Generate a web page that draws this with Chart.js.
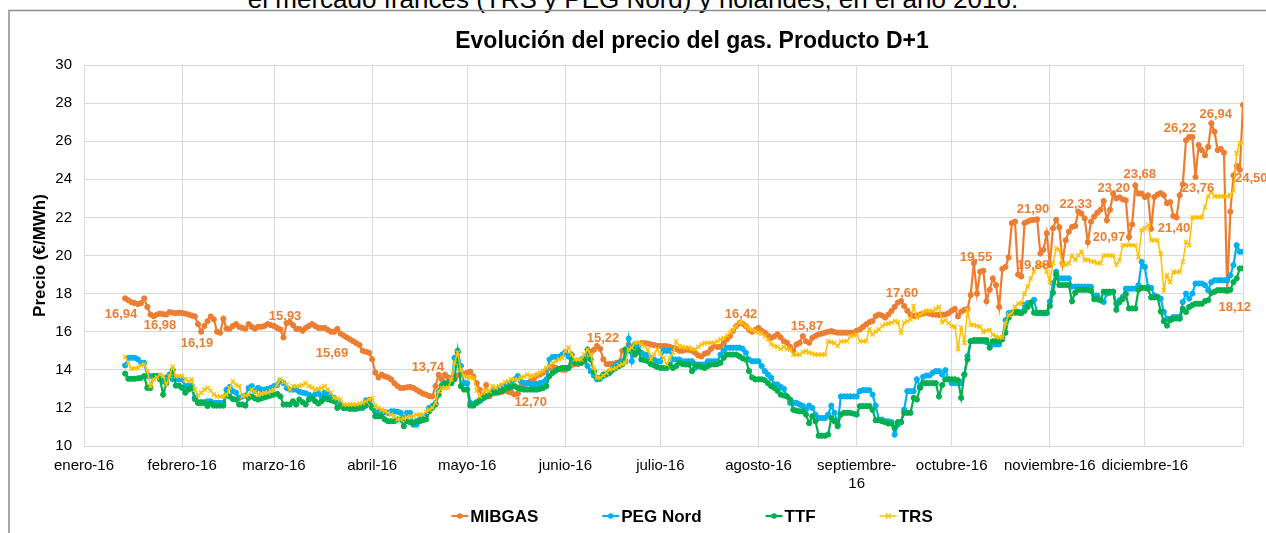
<!DOCTYPE html>
<html lang="es">
<head>
<meta charset="utf-8">
<title>Evolución del precio del gas. Producto D+1</title>
<script src="https://cdn.jsdelivr.net/npm/chart.js@4.4.0/dist/chart.umd.min.js"></script>
<style>
    html, body { margin: 0; padding: 0; background: #fff; overflow: hidden; }
    #doc-text {
        position: absolute; left: 0; top: -14px; width: 1266px;
        text-align: center; white-space: nowrap;
        font: 26px/26px "Liberation Sans", Arial, sans-serif; color: #000;
    }
    #wrap { position: absolute; left: 0; top: 0; width: 1266px; height: 533px; }
</style>
</head>
<body>
<div id="doc-text">el mercado francés (TRS y PEG Nord) y holandés, en el año 2016.</div>
<div id="wrap"><canvas id="chart"></canvas></div>
<script>
const FONT = '"Liberation Sans", Arial, sans-serif';

// Achse: Tage ab 1. Januar 2016
const firstDay = 13;
const monthTicks = [0, 31, 60, 91, 121, 152, 182, 213, 244, 274, 305, 335, 366];
const monthLabels = ['enero-16', 'febrero-16', 'marzo-16', 'abril-16', 'mayo-16', 'junio-16', 'julio-16',
    'agosto-16', ['septiembre-', '16'], 'octubre-16', 'noviembre-16', 'diciembre-16', ''];

// Tageswerte (€/MWh), ab Tag 13, je Zeile 10 Tage
const mibgas = [
    17.75, 17.65, 17.55, 17.5, 17.45, 17.5, 17.75, 17.3, 16.9, 16.82,
    16.9, 16.95, 16.92, 16.9, 17.03, 17.0, 16.97, 17.0, 16.98, 16.95,
    16.9, 16.85, 16.8, 16.4, 16.0, 16.3, 16.55, 16.8, 16.65, 16.0,
    15.95, 16.68, 16.16, 16.15, 16.3, 16.4, 16.26, 16.2, 16.16, 16.4,
    16.25, 16.16, 16.26, 16.26, 16.3, 16.4, 16.35, 16.3, 16.2, 16.12,
    15.7, 16.45, 16.5, 16.35, 16.15, 16.15, 16.05, 16.2, 16.3, 16.4,
    16.3, 16.2, 16.2, 16.2, 16.1, 16.0, 16.0, 16.15, 15.9, 15.8,
    15.7, 15.6, 15.5, 15.4, 15.3, 15.0, 14.95, 14.9, 14.55, 13.85,
    13.6, 13.75, 13.65, 13.6, 13.5, 13.3, 13.15, 13.05, 13.05, 13.08,
    13.1, 13.05, 12.95, 12.85, 12.75, 12.7, 12.62, 12.6, 13.15, 13.74,
    13.5, 13.75, 13.6, 13.55, 13.6, 13.7, 13.75, 13.8, 13.85, 13.9,
    13.65, 13.3, 12.95, 12.5, 13.2, 12.6, 12.75, 12.8, 12.8, 12.85,
    12.9, 12.85, 12.8, 12.7, 12.75, 13.14, 13.2, 13.3, 13.4, 13.5,
    13.7, 13.75, 13.85, 14.0, 14.1, 14.15, 14.1, 14.05, 14.0, 14.0,
    14.1, 14.25, 14.3, 14.3, 14.35, 14.45, 14.63, 14.9, 15.05, 15.25,
    15.1, 14.55, 14.3, 14.3, 14.32, 14.35, 14.4, 15.0, 15.05, 15.33,
    15.05, 15.2, 15.35, 15.4, 15.4, 15.38, 15.33, 15.3, 15.25, 15.25,
    15.25, 15.25, 15.2, 15.15, 15.1, 15.0, 15.0, 15.05, 15.05, 15.0,
    14.9, 14.75, 14.7, 14.85, 14.9, 15.1, 15.25, 15.2, 15.2, 15.4,
    15.6, 15.77, 16.05, 16.3, 16.45, 16.42, 16.3, 16.1, 16.0, 16.1,
    16.2, 16.05, 15.95, 15.8, 15.68, 15.75, 15.86, 15.7, 15.5, 15.42,
    15.2, 15.0, 15.33, 15.42, 15.77, 15.5, 15.42, 15.68, 15.78, 15.86,
    15.9, 15.95, 16.0, 16.03, 15.98, 15.95, 15.95, 15.95, 15.95, 15.95,
    15.95, 16.05, 16.12, 16.25, 16.39, 16.5, 16.56, 16.82, 16.9, 16.85,
    16.74, 16.9, 17.09, 17.3, 17.53, 17.6, 17.35, 17.1, 16.9, 16.82,
    16.85, 16.9, 16.95, 17.0, 16.95, 16.9, 16.9, 16.88, 16.9, 16.9,
    16.97, 17.1, 17.2, 16.8, 17.05, 17.15, 17.2, 17.93, 19.6, 18.0,
    19.15, 19.2, 17.6, 18.2, 18.8, 18.45, 17.3, 19.3, 19.4, 19.9,
    21.7, 21.78, 19.0, 18.9, 21.7, 21.78, 21.85, 21.87, 21.9, 20.1,
    20.3, 21.17, 19.5, 21.43, 21.87, 21.48, 19.6, 20.8, 21.25, 21.5,
    21.55, 22.3, 22.2, 21.95, 20.7, 21.78, 22.04, 22.25, 22.4, 22.86,
    21.85, 22.4, 23.25, 23.0, 23.05, 22.95, 22.9, 20.97, 21.63, 23.68,
    23.25, 23.25, 23.07, 23.16, 21.4, 23.07, 23.2, 23.28, 23.16, 22.75,
    22.8, 22.07, 22.0, 23.16, 23.74, 26.05, 26.22, 26.22, 24.12, 25.8,
    25.53, 25.26, 25.7, 26.94, 26.5, 25.53, 25.6, 25.4, 18.12, 22.3,
    24.2, 24.7, 24.5, 27.9
];

const pegNord = [
    14.23, 14.63, 14.63, 14.63, 14.55, 14.37, 14.37, 13.67, 13.67, 13.67,
    13.67, 13.67, 13.4, 13.58, 13.75, 13.5, 13.5, 13.5, 13.5, 13.14,
    13.17, 13.17, 12.53, 12.3, 12.3, 12.3, 12.35, 12.35, 12.26, 12.26,
    12.26, 12.26, 12.96, 13.1, 12.88, 12.8, 12.53, 12.6, 12.65, 13.05,
    13.14, 12.88, 13.05, 12.96, 12.96, 13.0, 13.05, 13.14, 13.2, 13.4,
    13.3, 13.05, 12.96, 12.96, 12.96, 12.85, 12.8, 12.77, 12.7, 12.6,
    12.7, 12.77, 12.6, 12.8, 12.7, 12.6, 12.53, 12.35, 12.18, 12.0,
    12.0, 12.0, 12.0, 12.0, 12.0, 12.0, 12.4, 12.4, 12.09, 11.82,
    11.8, 11.77, 11.77, 11.74, 11.82, 11.82, 11.8, 11.74, 11.47, 11.74,
    11.74, 11.12, 11.12, 11.39, 11.47, 11.6, 12.0, 12.1, 12.26, 12.88,
    13.2, 13.3, 13.3, 13.3, 14.63, 15.0, 14.2, 13.3, 13.3, 12.26,
    12.2, 12.3, 12.35, 12.53, 12.6, 12.7, 12.88, 12.96, 13.05, 13.14,
    13.2, 13.3, 13.4, 13.5, 13.67, 13.4, 13.3, 13.3, 13.25, 13.23,
    13.25, 13.3, 13.35, 13.5, 14.54, 14.68, 14.68, 14.68, 14.8, 14.93,
    14.7, 14.54, 14.45, 14.45, 14.54, 14.63, 14.2, 13.93, 13.7, 13.5,
    13.53, 13.67, 13.75, 13.88, 14.1, 14.25, 14.37, 14.45, 14.45, 15.63,
    14.45, 15.33, 15.25, 14.9, 14.8, 14.77, 14.6, 14.54, 14.45, 14.45,
    15.0, 15.0, 15.0, 14.54, 14.54, 14.54, 14.45, 14.45, 14.45, 14.45,
    14.1, 14.28, 14.28, 14.28, 14.45, 14.45, 14.45, 14.45, 14.8, 15.0,
    15.16, 15.16, 15.16, 15.16, 15.16, 15.1, 14.9, 14.54, 14.45, 14.45,
    14.45, 14.2, 13.93, 13.75, 13.58, 13.23, 13.23, 13.1, 13.0, 12.6,
    12.26, 12.26, 12.26, 12.18, 12.1, 11.91, 12.12, 12.0, 11.65, 11.47,
    11.47, 11.47, 11.65, 12.12, 11.74, 11.12, 12.6, 12.6, 12.6, 12.6,
    12.6, 12.6, 12.88, 12.93, 12.93, 12.93, 12.7, 12.12, 11.39, 11.39,
    11.3, 11.3, 11.25, 10.6, 11.12, 11.25, 11.91, 12.88, 12.88, 12.88,
    13.5, 13.14, 13.63, 13.7, 13.7, 13.84, 13.93, 13.93, 13.75, 13.98,
    13.5, 13.3, 13.3, 13.3, 13.3, 13.75, 14.72, 15.5, 15.5, 15.5,
    15.5, 15.5, 15.45, 15.33, 15.33, 15.33, 15.33, 15.68, 16.6, 16.97,
    16.97, 17.05, 17.05, 16.97, 17.4, 17.5, 17.5, 17.67, 16.97, 16.97,
    16.97, 16.97, 17.58, 18.54, 19.15, 18.8, 18.8, 18.8, 18.8, 18.37,
    18.37, 18.37, 18.37, 18.37, 18.37, 18.35, 17.9, 17.9, 17.65, 17.56,
    18.0, 18.05, 18.1, 17.47, 17.65, 17.82, 18.26, 18.26, 18.26, 18.26,
    18.44, 19.67, 19.4, 18.35, 18.3, 17.9, 17.82, 17.74, 17.04, 16.68,
    16.68, 16.77, 16.77, 16.77, 17.56, 18.0, 17.74, 18.0, 18.53, 18.53,
    18.53, 18.44, 18.18, 18.6, 18.7, 18.7, 18.7, 18.7, 18.7, 18.96,
    19.5, 20.54, 20.2, 20.2
];

const ttf = [
    13.8, 13.53, 13.53, 13.53, 13.55, 13.58, 13.67, 13.05, 13.05, 13.67,
    13.67, 13.5, 12.7, 13.3, 13.67, 14.0, 13.17, 13.17, 13.05, 12.8,
    12.96, 13.05, 12.47, 12.26, 12.26, 12.26, 12.1, 12.23, 12.12, 12.12,
    12.12, 12.12, 12.7, 12.6, 12.47, 12.44, 12.18, 12.18, 12.12, 12.53,
    12.6, 12.5, 12.44, 12.5, 12.55, 12.6, 12.65, 12.7, 12.74, 12.6,
    12.18, 12.18, 12.18, 12.35, 12.18, 12.44, 12.3, 12.18, 12.44, 12.5,
    12.35, 12.23, 12.35, 12.5, 12.45, 12.4, 12.35, 12.0, 12.1, 12.0,
    12.0, 11.95, 11.95, 11.95, 12.0, 12.05, 12.12, 12.4, 12.0, 11.56,
    11.56, 11.56, 11.4, 11.3, 11.3, 11.3, 11.39, 11.39, 11.04, 11.3,
    11.25, 11.2, 11.3, 11.3, 11.35, 11.4, 11.82, 12.0, 12.18, 12.7,
    13.14, 13.28, 13.3, 13.3, 13.5, 14.93, 13.14, 12.96, 12.96, 12.12,
    12.12, 12.26, 12.44, 12.5, 12.6, 12.7, 12.8, 12.8, 12.85, 12.88,
    13.0, 13.05, 13.1, 13.14, 13.05, 13.0, 12.96, 12.96, 12.96, 12.96,
    12.96, 13.0, 13.05, 13.14, 13.67, 13.84, 13.95, 14.05, 14.1, 14.1,
    14.1, 14.8, 14.37, 14.37, 14.37, 14.45, 15.07, 14.54, 13.93, 13.58,
    13.58, 13.75, 13.8, 13.84, 14.0, 14.1, 14.2, 14.28, 15.07, 15.0,
    15.16, 14.8, 15.0, 14.54, 14.5, 14.45, 14.3, 14.23, 14.15, 14.1,
    14.1, 14.1, 14.28, 14.1, 14.2, 14.37, 14.3, 14.28, 14.28, 13.93,
    14.28, 14.2, 14.15, 14.1, 14.2, 14.28, 14.28, 14.3, 14.37, 14.63,
    14.8, 14.8, 14.8, 14.8, 14.7, 14.6, 14.54, 13.93, 13.6, 13.5,
    13.5, 13.5, 13.45, 13.3, 13.14, 13.05, 12.9, 12.7, 12.65, 12.6,
    12.44, 11.9, 11.85, 11.82, 11.82, 11.65, 11.2, 11.56, 11.3, 10.54,
    10.54, 10.54, 10.6, 11.47, 11.3, 11.04, 11.65, 11.74, 11.74, 11.74,
    11.7, 11.65, 12.09, 12.09, 12.09, 12.1, 11.9, 11.35, 11.35, 11.3,
    11.25, 11.18, 11.18, 10.95, 11.25, 11.25, 11.74, 11.74, 11.74, 12.53,
    12.44, 13.05, 13.3, 13.3, 13.3, 13.3, 13.3, 12.6, 13.2, 13.5,
    13.5, 13.5, 13.5, 13.45, 12.53, 13.75, 14.54, 15.5, 15.56, 15.56,
    15.56, 15.56, 15.56, 15.16, 15.5, 15.5, 15.5, 15.6, 15.95, 16.74,
    17.0, 17.0, 17.0, 17.0, 17.09, 17.3, 17.53, 17.0, 17.0, 17.0,
    17.0, 17.0, 17.35, 18.05, 19.0, 18.45, 18.45, 18.45, 18.45, 17.6,
    18.05, 18.2, 18.2, 18.2, 18.2, 18.15, 17.7, 17.7, 17.65, 18.1,
    18.1, 18.1, 18.1, 17.15, 17.55, 17.72, 17.98, 17.22, 17.22, 17.22,
    18.2, 18.3, 18.3, 18.25, 17.8, 17.8, 17.82, 17.06, 16.55, 16.32,
    16.6, 16.68, 16.7, 16.68, 17.2, 17.04, 17.3, 17.4, 17.47, 17.47,
    17.47, 17.6, 17.65, 18.04, 18.1, 18.18, 18.18, 18.18, 18.18, 18.2,
    18.6, 18.8, 19.32, 19.32
];

const trs = [
    14.68, 14.37, 14.05, 14.08, 14.1, 14.23, 14.3, 13.93, 13.14, 13.5,
    13.6, 13.75, 13.67, 13.23, 13.67, 14.16, 13.67, 13.67, 13.67, 13.5,
    13.4, 13.5, 12.96, 12.65, 12.8, 12.96, 13.05, 12.9, 12.7, 12.6,
    12.6, 12.6, 12.7, 13.05, 13.4, 13.2, 13.14, 12.6, 12.65, 12.7,
    12.96, 12.85, 12.7, 12.75, 12.8, 12.8, 12.9, 12.96, 13.23, 13.5,
    13.35, 13.23, 12.96, 13.14, 13.14, 13.14, 13.2, 13.3, 13.14, 13.05,
    12.96, 13.0, 13.05, 13.14, 12.96, 12.8, 12.53, 12.5, 12.44, 12.18,
    12.18, 12.18, 12.18, 12.18, 12.22, 12.26, 12.35, 12.45, 12.53, 12.09,
    12.0, 11.9, 11.82, 11.74, 11.65, 11.56, 11.39, 11.39, 11.45, 11.5,
    11.56, 11.56, 11.65, 11.65, 11.65, 11.8, 11.9, 12.0, 12.26, 12.88,
    13.05, 13.05, 13.05, 13.5, 14.37, 14.9, 14.0, 13.67, 13.6, 13.58,
    13.58, 12.9, 12.6, 12.8, 12.96, 12.88, 13.14, 13.05, 13.15, 13.23,
    13.35, 13.4, 13.5, 13.5, 13.5, 13.58, 13.65, 13.75, 13.67, 13.7,
    13.75, 13.85, 13.93, 14.1, 14.2, 14.37, 14.45, 14.55, 14.63, 15.0,
    15.16, 14.8, 14.54, 14.54, 14.54, 14.8, 15.07, 14.8, 14.1, 13.58,
    13.58, 13.7, 13.84, 14.0, 14.05, 14.1, 14.23, 14.3, 14.37, 15.07,
    15.16, 15.42, 15.42, 15.35, 15.25, 15.07, 14.54, 14.8, 15.07, 14.85,
    14.63, 14.28, 14.6, 14.9, 15.5, 15.25, 15.2, 15.16, 15.16, 15.1,
    15.07, 15.2, 15.33, 15.4, 15.42, 15.42, 15.42, 15.5, 15.6, 15.68,
    15.8, 15.95, 16.1, 16.3, 16.5, 16.45, 16.3, 16.15, 16.1, 16.05,
    15.95, 15.9, 15.77, 15.6, 15.35, 15.25, 15.2, 15.1, 15.2, 15.1,
    15.07, 14.8, 14.8, 14.8, 14.93, 14.98, 14.9, 14.85, 14.8, 14.8,
    14.8, 14.8, 15.5, 15.45, 15.4, 15.25, 15.5, 15.5, 15.5, 15.77,
    15.8, 15.86, 15.5, 15.5, 15.5, 16.12, 15.86, 16.0, 16.12, 16.3,
    16.39, 16.42, 16.47, 16.56, 16.5, 15.95, 16.47, 16.55, 16.65, 17.35,
    16.74, 16.9, 17.0, 17.09, 17.09, 17.09, 17.2, 17.3, 16.5, 16.6,
    16.45, 16.3, 16.27, 15.1, 16.2, 15.43, 17.14, 16.35, 16.35, 16.3,
    16.27, 16.0, 16.05, 16.1, 15.83, 15.75, 15.7, 15.7, 16.44, 16.88,
    16.97, 17.32, 17.46, 17.5, 18.0, 18.37, 18.8, 19.15, 19.4, 19.5,
    19.5, 19.15, 18.6, 19.6, 20.38, 20.3, 19.5, 19.5, 19.6, 20.0,
    19.77, 20.0, 20.2, 19.77, 19.77, 19.7, 19.68, 19.6, 19.6, 20.0,
    20.0, 20.0, 20.0, 19.5, 19.75, 20.54, 20.54, 20.54, 20.54, 20.54,
    19.93, 21.33, 21.42, 21.6, 20.8, 20.8, 20.8, 20.1, 18.18, 18.96,
    18.6, 19.14, 19.14, 19.14, 19.67, 20.72, 20.54, 22.0, 22.0, 22.0,
    22.0, 22.56, 23.1, 23.35, 23.1, 23.1, 23.1, 23.1, 23.1, 23.18,
    23.4, 25.37, 25.9, 25.9
];

// Datenbeschriftungen MIBGAS (Text und Ankerpunkt Tag / Preis)
const labelTexts = ['16,94', '16,98', '16,19', '15,93', '15,69', '13,74', '12,70', '15,22', '16,42', '15,87',
    '17,60', '19,55', '19,88', '21,90', '22,33', '23,20', '20,97', '23,68', '21,40', '26,22', '26,94', '23,76',
    '24,50', '18,12'];
const labelDays = [11.7, 24.0, 35.7, 63.5, 78.3, 108.6, 141.1, 163.9, 207.5, 228.3,
    258.3, 281.7, 299.7, 299.7, 313.2, 325.2, 323.7, 333.4, 344.2, 346.1, 357.4, 351.8,
    368.6, 363.4];
const labelPrices = [16.93, 16.35, 15.41, 16.82, 14.88, 14.15, 12.31, 15.67, 16.93, 16.30,
    18.03, 19.92, 19.50, 22.44, 22.70, 23.54, 20.97, 24.28, 21.44, 26.69, 27.38, 23.54,
    24.02, 17.30];

const toPoints = arr => arr.map((v, i) => ({ x: firstDay + i, y: v }));

function makeSeries(label, values, color, order, style) {
    return {
        label: label,
        data: toPoints(values),
        borderColor: color,
        backgroundColor: color,
        borderWidth: style === 'crossRot' ? 1.5 : 2.2,
        pointStyle: style,
        pointRadius: style === 'crossRot' ? 3 : 2.6,
        pointBorderWidth: style === 'crossRot' ? 1.3 : 1,
        pointBackgroundColor: color,
        pointBorderColor: color,
        tension: 0,
        order: order
    };
}

// Titel, Legende, Rahmen und Beschriftungen selbst zeichnen
const decorPlugin = {
    id: 'decor',
    afterDraw(chart) {
        const { ctx, scales: { x, y } } = chart;
        ctx.save();

        ctx.strokeStyle = '#8c8c8c';
        ctx.lineWidth = 1.5;
        ctx.strokeRect(9, 10.5, 1500, 1000);

        ctx.fillStyle = '#000';
        ctx.font = 'bold 23px ' + FONT;
        ctx.textAlign = 'center';
        ctx.textBaseline = 'middle';
        ctx.fillText('Evolución del precio del gas. Producto D+1', 692, 42);

        ctx.font = 'bold 13px ' + FONT;
        ctx.fillStyle = '#ED7D31';
        labelTexts.forEach((t, i) => {
            ctx.fillText(t, x.getPixelForValue(labelDays[i]), y.getPixelForValue(labelPrices[i]));
        });

        // Legende
        ctx.font = 'bold 17px ' + FONT;
        const swatch = 17, gapText = 2, gapItem = 64, ly = 516;
        const sets = chart.data.datasets;
        const widths = sets.map(ds => swatch + gapText + ctx.measureText(ds.label).width);
        const total = widths.reduce((a, b) => a + b, 0) + gapItem * (sets.length - 1);
        let cx = 692 - total / 2;
        sets.forEach((ds, i) => {
            ctx.strokeStyle = ds.borderColor;
            ctx.lineWidth = ds.borderWidth;
            ctx.beginPath();
            ctx.moveTo(cx, ly);
            ctx.lineTo(cx + swatch, ly);
            ctx.stroke();
            const mx = cx + swatch / 2;
            if (ds.pointStyle === 'crossRot') {
                ctx.lineWidth = 1.3;
                ctx.beginPath();
                ctx.moveTo(mx - 2.5, ly - 2.5); ctx.lineTo(mx + 2.5, ly + 2.5);
                ctx.moveTo(mx - 2.5, ly + 2.5); ctx.lineTo(mx + 2.5, ly - 2.5);
                ctx.stroke();
            } else {
                ctx.fillStyle = ds.borderColor;
                ctx.beginPath();
                ctx.arc(mx, ly, 2.8, 0, Math.PI * 2);
                ctx.fill();
            }
            ctx.fillStyle = '#000';
            ctx.textAlign = 'left';
            ctx.fillText(ds.label, cx + swatch + gapText, ly + 1);
            cx += widths[i] + gapItem;
        });

        ctx.restore();
    }
};

new Chart(document.getElementById('chart'), {
    type: 'line',
    data: {
        datasets: [
            makeSeries('MIBGAS', mibgas, '#ED7D31', 3, 'circle'),
            makeSeries('PEG Nord', pegNord, '#00B0F0', 2, 'circle'),
            makeSeries('TTF', ttf, '#00B050', 1, 'circle'),
            makeSeries('TRS', trs, '#FFC000', 0, 'crossRot')
        ]
    },
    options: {
        responsive: true,
        maintainAspectRatio: false,
        animation: false,
        layout: { padding: { top: 65, right: 23, bottom: 0, left: 0 } },
        plugins: {
            legend: { display: false },
            title: { display: false },
            tooltip: { enabled: false }
        },
        scales: {
            x: {
                type: 'linear',
                min: 0,
                max: 366,
                afterBuildTicks: scale => { scale.ticks = monthTicks.map(v => ({ value: v })); },
                afterFit: scale => { scale.height = 87; },
                ticks: {
                    autoSkip: false,
                    maxRotation: 0,
                    minRotation: 0,
                    padding: 11,
                    color: '#000',
                    font: { family: FONT, size: 15 },
                    callback: value => monthLabels[monthTicks.indexOf(value)]
                },
                grid: { color: '#d9d9d9', lineWidth: 1, drawTicks: false },
                border: { display: false }
            },
            y: {
                min: 10,
                max: 30,
                afterFit: scale => { scale.width = 84; },
                ticks: {
                    stepSize: 2,
                    padding: 12,
                    color: '#000',
                    font: { family: FONT, size: 15 }
                },
                grid: { color: '#d9d9d9', lineWidth: 1, drawTicks: false },
                border: { display: false },
                title: {
                    display: true,
                    text: 'Precio (€/MWh)',
                    color: '#000',
                    font: { family: FONT, size: 17, weight: 'bold' },
                    padding: { top: 30, bottom: 0 }
                }
            }
        }
    },
    plugins: [decorPlugin]
});
</script>
</body>
</html>
